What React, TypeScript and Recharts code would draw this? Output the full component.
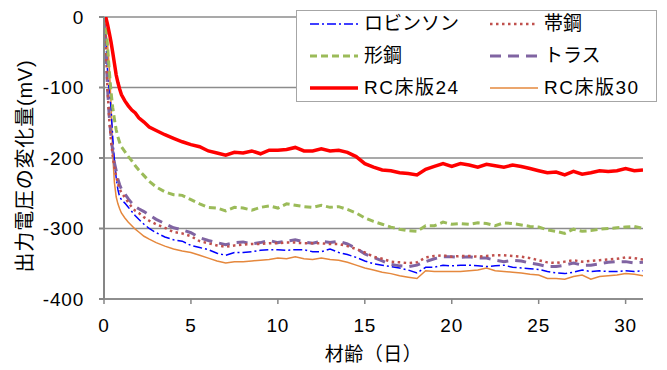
import React from 'react';
import { LineChart, Line, XAxis, YAxis, CartesianGrid, Legend, Label } from 'recharts';

const FONT = "'Liberation Sans', Arial, 'Noto Sans CJK JP', sans-serif";

// Age of concrete in days
const days = [
  0, 0.1, 0.2, 0.3, 0.4, 0.5, 0.6, 0.7, 0.8, 0.9, 1,
  1.2, 1.4, 1.6, 1.8, 2,
  2.3, 2.6,
  3, 3.5, 4, 4.5, 5, 5.5, 6, 6.5, 7, 7.5,
  8, 8.5, 9, 9.5, 10, 10.5, 11, 11.5, 12, 12.5,
  13, 13.5, 14, 14.5, 15, 15.5, 16, 16.5, 17, 17.5,
  18, 18.5, 19, 19.5, 20, 20.5, 21, 21.5, 22, 22.5,
  23, 23.5, 24, 24.5, 25, 25.5, 26, 26.5, 27, 27.5,
  28, 28.5, 29, 29.5, 30, 30.5, 31,
];

const robinson = [
  0, -30, -75, -105, -128, -170, -203, -228, -245, -255, -259,
  -264, -270, -276, -282, -287,
  -294, -300,
  -306, -312, -316, -318, -324, -327, -330, -335, -338, -334,
  -334, -333, -331, -330, -330, -331, -330, -330, -333, -333,
  -329, -334, -337, -341, -346, -350, -352, -354, -356, -359,
  -363, -355, -355, -352, -353, -352, -352, -353, -354, -353,
  -352, -355, -356, -357, -358, -361, -363, -364, -362, -359,
  -361, -360, -361, -361, -360, -361, -360,
];

const obiko = [
  0, -40, -100, -145, -175, -197, -213, -226, -236, -244, -249,
  -256, -263, -270, -275, -278,
  -284, -289,
  -294, -299, -305, -307, -311, -318, -321, -324, -326, -324,
  -323, -322, -322, -321, -321, -320, -320, -321, -321, -321,
  -322, -322, -325, -329, -334, -340, -343, -347, -348, -349,
  -348, -341, -339, -338, -340, -339, -339, -340, -339, -338,
  -338, -339, -340, -342, -345, -348, -349, -347, -345, -347,
  -346, -345, -344, -343, -341, -342, -344,
];

const katako = [
  0, -5, -40, -75, -105, -128, -145, -160, -170, -178, -184,
  -191, -198, -204, -211, -217,
  -225, -233,
  -241, -248, -252, -253, -259, -265, -270, -271, -275, -270,
  -271, -274, -270, -268, -271, -265, -267, -269, -270, -267,
  -270, -269, -273, -278, -285, -290, -294, -298, -301, -303,
  -304, -296, -296, -291, -294, -293, -294, -292, -293, -296,
  -292, -293, -295, -297, -298, -302, -304, -307, -301, -304,
  -303, -301, -300, -299, -298, -297, -300,
];

const truss = [
  0, -40, -100, -140, -168, -190, -207, -218, -230, -238, -244,
  -251, -258, -264, -269, -272,
  -276, -281,
  -287, -293, -299, -302, -306, -313, -317, -320, -323, -320,
  -319, -322, -320, -317, -320, -318, -316, -319, -321, -318,
  -320, -318, -322, -328, -336, -341, -346, -351, -353, -354,
  -352, -347, -343, -340, -340, -341, -340, -342, -342, -345,
  -347, -345, -346, -349, -351, -354, -354, -352, -349, -352,
  -352, -350, -348, -347, -347, -349, -348,
];

const rc24 = [
  0, 0, -10, -22, -35, -50, -66, -82, -93, -102, -110,
  -119, -126, -132, -136, -143,
  -149, -156,
  -161, -167, -172, -177, -181, -184, -190, -193, -196, -192,
  -193, -190, -194, -189, -189, -188, -185, -190, -190, -187,
  -190, -189, -192, -198, -208, -213, -217, -218, -221, -222,
  -224, -216, -212, -208, -212, -208, -210, -213, -209, -211,
  -213, -210, -212, -215, -218, -221, -220, -224, -219, -223,
  -221, -218, -219, -218, -215, -218, -217,
];

const rc30 = [
  0, -20, -37, -70, -120, -195, -235, -255, -265, -272, -278,
  -285, -291, -296, -301, -305,
  -311, -315,
  -320, -325, -329, -332, -334, -338, -342, -346, -349, -347,
  -347, -346, -345, -344, -342, -343, -340, -343, -344, -342,
  -344, -345, -348, -352, -356, -359, -362, -364, -367, -369,
  -371, -360, -361, -361, -361, -361, -360, -359, -356, -360,
  -361, -362, -363, -365, -366, -371, -371, -372, -368, -366,
  -372, -368, -367, -366, -364, -365, -367,
];

const xTicks = [0, 5, 10, 15, 20, 25, 30];
const yTicks = [0, -100, -200, -300, -400];

type Series = {
  key: string;
  name: string;
  values: number[];
  color: string;
  width: number;
  dash?: string;
};

// Listed in legend order (two columns, row by row)
const series: Series[] = [
  { key: 'robinson', name: 'ロビンソン', values: robinson, color: '#0000FF', width: 1.5, dash: '9 3 2 3' },
  { key: 'obiko', name: '帯鋼', values: obiko, color: '#C0504D', width: 2.5, dash: '2.5 3.5' },
  { key: 'katako', name: '形鋼', values: katako, color: '#9BBB59', width: 3, dash: '7 4' },
  { key: 'truss', name: 'トラス', values: truss, color: '#8064A2', width: 3, dash: '11 7' },
  { key: 'rc24', name: 'RC床版24', values: rc24, color: '#FF0000', width: 3.5 },
  { key: 'rc30', name: 'RC床版30', values: rc30, color: '#E5883D', width: 1.5 },
];

// Paint order for the lines
const drawOrder = ['rc30', 'robinson', 'truss', 'obiko', 'katako', 'rc24'];

const rows = days.map((d, i) => {
  const row: Record<string, number> = { day: d };
  series.forEach((s) => {
    row[s.key] = s.values[i];
  });
  return row;
});

const LegendBox = () => (
  <div
    style={{
      width: 361,
      height: 92,
      boxSizing: 'border-box',
      border: '1.5px solid #a6a6a6',
      background: '#fff',
      position: 'relative',
      fontFamily: FONT,
      fontSize: 19,
      color: '#000',
    }}
  >
    {series.map((s, i) => {
      const col = i % 2;
      const row = Math.floor(i / 2);
      return (
        <div
          key={s.key}
          style={{
            position: 'absolute',
            left: col ? 193 : 13,
            top: 1 + row * 32,
            height: 24,
            display: 'flex',
            alignItems: 'center',
            whiteSpace: 'nowrap',
          }}
        >
          <svg width={48} height={10} style={{ display: 'block' }}>
            <line x1={0} y1={5} x2={48} y2={5} stroke={s.color} strokeWidth={s.width} strokeDasharray={s.dash} />
          </svg>
          <span style={{ marginLeft: 6, lineHeight: '24px', letterSpacing: /^[A-Z]/.test(s.name) ? 1.5 : 0 }}>
            {s.name}
          </span>
        </div>
      );
    })}
  </div>
);

export default function App() {
  return (
    <div style={{ position: 'absolute', left: 0, top: 0, background: '#fff' }}>
      <LineChart width={667} height={370} data={rows} margin={{ top: 17, right: 24, bottom: 0, left: 0 }}>
        <CartesianGrid vertical={false} stroke="#8c8c8c" strokeWidth={1.5} />
        <XAxis
          dataKey="day"
          type="number"
          domain={[0, 31]}
          ticks={xTicks}
          allowDataOverflow
          height={71}
          stroke="#868686"
          strokeWidth={1.5}
          tickSize={5}
          tickMargin={15}
          tick={{ fontSize: 19, fill: '#000', fontFamily: FONT, letterSpacing: 0.8 }}
        >
          <Label value="材齢（日）" position="center" dy={20} style={{ fontSize: 19, fill: '#000', fontFamily: FONT, letterSpacing: 0.5 }} />
        </XAxis>
        <YAxis
          type="number"
          domain={[-400, 0]}
          ticks={yTicks}
          allowDataOverflow
          width={104}
          stroke="#868686"
          strokeWidth={2}
          tickSize={5}
          tickMargin={15}
          tick={{ fontSize: 19, fill: '#000', fontFamily: FONT, letterSpacing: 0.8 }}
        >
          <Label
            value="出力電圧の変化量(mV)"
            position="center"
            angle={-90}
            dx={-27}
            dy={8}
            style={{ fontSize: 20, fill: '#000', fontFamily: FONT, letterSpacing: 0.8 }}
          />
        </YAxis>
        <Legend
          layout="horizontal"
          verticalAlign="middle"
          align="center"
          content={<LegendBox />}
          wrapperStyle={{ left: 296, top: 10, width: 361, height: 92 }}
        />
        {drawOrder.map((k) => {
          const s = series.find((x) => x.key === k)!;
          return (
            <Line
              key={s.key}
              dataKey={s.key}
              name={s.name}
              type="linear"
              stroke={s.color}
              strokeWidth={s.width}
              strokeDasharray={s.dash}
              dot={false}
              activeDot={false}
              isAnimationActive={false}
            />
          );
        })}
      </LineChart>
    </div>
  );
}
